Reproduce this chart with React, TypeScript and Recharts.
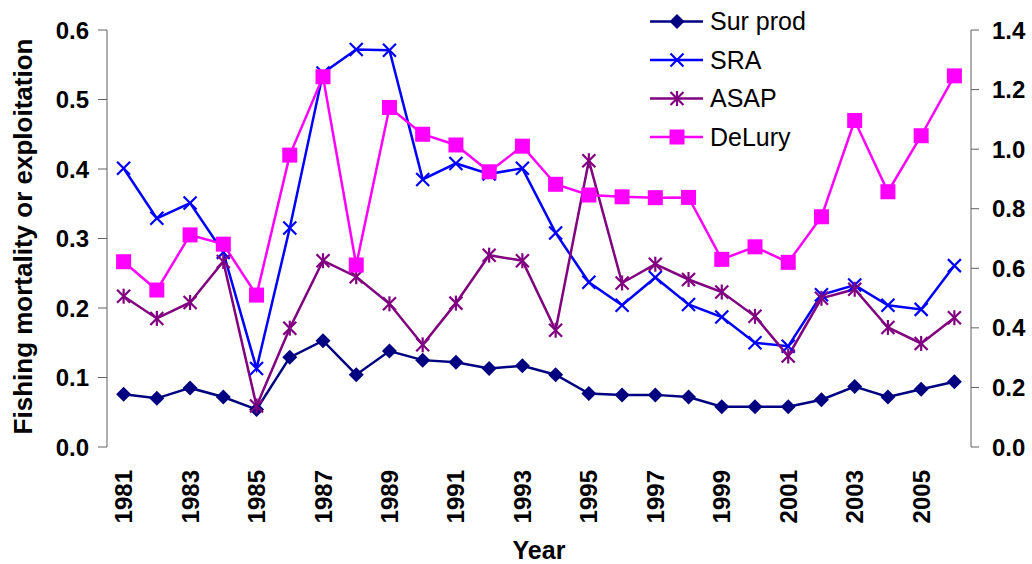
import React from 'react';
import { LineChart, Line, XAxis, YAxis, Legend } from 'recharts';

const years = [
  1981, 1982, 1983, 1984, 1985, 1986, 1987, 1988, 1989, 1990, 1991, 1992, 1993,
  1994, 1995, 1996, 1997, 1998, 1999, 2000, 2001, 2002, 2003, 2004, 2005, 2006,
];
const surProd = [
  0.076, 0.07, 0.085, 0.072, 0.054, 0.129, 0.153, 0.104, 0.138, 0.125, 0.122, 0.113, 0.117,
  0.104, 0.077, 0.075, 0.075, 0.072, 0.058, 0.058, 0.058, 0.068, 0.087, 0.072, 0.083, 0.094,
];
const sra = [
  0.401, 0.329, 0.351, 0.28, 0.113, 0.315, 0.538, 0.572, 0.571, 0.385, 0.408, 0.393, 0.401,
  0.308, 0.237, 0.204, 0.244, 0.205, 0.187, 0.15, 0.145, 0.219, 0.233, 0.204, 0.198, 0.261,
];
const asap = [
  0.217, 0.185, 0.208, 0.267, 0.059, 0.171, 0.268, 0.245, 0.206, 0.147, 0.207, 0.276, 0.268,
  0.168, 0.412, 0.236, 0.263, 0.241, 0.223, 0.188, 0.131, 0.214, 0.227, 0.172, 0.149, 0.186,
];
// DeLury is plotted against the right-hand axis
const delury = [
  0.622, 0.527, 0.712, 0.681, 0.51, 0.98, 1.243, 0.611, 1.14, 1.05, 1.014, 0.924, 1.01,
  0.882, 0.846, 0.84, 0.837, 0.838, 0.63, 0.672, 0.62, 0.773, 1.096, 0.857, 1.045, 1.246,
];
const labelYears = [1981, 1983, 1985, 1987, 1989, 1991, 1993, 1995, 1997, 1999, 2001, 2003, 2005];
const leftTicks = [0, 0.1, 0.2, 0.3, 0.4, 0.5, 0.6];
const rightTicks = [0, 0.2, 0.4, 0.6, 0.8, 1.0, 1.2, 1.4];

const data = years.map((year, i) => ({
  year,
  surProd: surProd[i],
  sra: sra[i],
  asap: asap[i],
  delury: delury[i],
}));

// tick marks sit between the years, like a category axis
const boundaryTicks = [...years.map((y) => y - 0.5), years[years.length - 1] + 0.5];

const FONT = '"Liberation Sans", Arial, sans-serif';
const AXIS_COLOR = '#606060';

type Shape = 'diamond' | 'x' | 'star' | 'square';

function Marker({ shape, cx, cy, color }: { shape: Shape; cx: number; cy: number; color: string }) {
  if (shape === 'diamond') {
    const r = 7.5;
    return <polygon points={`${cx},${cy - r} ${cx + r},${cy} ${cx},${cy + r} ${cx - r},${cy}`} fill={color} />;
  }
  if (shape === 'square') {
    const r = 7.5;
    return <rect x={cx - r} y={cy - r} width={2 * r} height={2 * r} fill={color} />;
  }
  const r = 6.5;
  return (
    <g stroke={color} strokeWidth={2.2}>
      <line x1={cx - r} y1={cy - r} x2={cx + r} y2={cy + r} />
      <line x1={cx - r} y1={cy + r} x2={cx + r} y2={cy - r} />
      {shape === 'star' && <line x1={cx} y1={cy - r - 1} x2={cx} y2={cy + r + 1} />}
    </g>
  );
}

const series = [
  { key: 'surProd', name: 'Sur prod', color: '#000080', shape: 'diamond' as Shape, axis: 'left' },
  { key: 'sra', name: 'SRA', color: '#0000FF', shape: 'x' as Shape, axis: 'left' },
  { key: 'asap', name: 'ASAP', color: '#800080', shape: 'star' as Shape, axis: 'left' },
  { key: 'delury', name: 'DeLury', color: '#FF00FF', shape: 'square' as Shape, axis: 'right' },
];

function LegendBox() {
  return (
    <svg width={230} height={160} style={{ display: 'block' }}>
      {series.map((s, i) => {
        const cy = 21.5 + i * 38.5;
        return (
          <g key={s.key}>
            <line x1={10} y1={cy} x2={63} y2={cy} stroke={s.color} strokeWidth={2.5} />
            <Marker shape={s.shape} cx={37} cy={cy} color={s.color} />
            <text x={70} y={cy} dy="0.35em" fontSize={25} fontFamily={FONT} fill="#000">
              {s.name}
            </text>
          </g>
        );
      })}
    </svg>
  );
}

function YearTick(props: any) {
  const { x, y, payload } = props;
  return (
    <text
      x={x}
      y={y}
      transform={`rotate(-90, ${x}, ${y})`}
      textAnchor="end"
      dominantBaseline="central"
      fontSize={24}
      fontWeight="bold"
      fontFamily={FONT}
      fill="#000"
    >
      {payload.value}
    </text>
  );
}

const tickStyle = { fontSize: 24, fontWeight: 'bold', fontFamily: FONT, fill: '#000' };

export default function App() {
  return (
    <div style={{ position: 'absolute', left: 0, top: 0 }}>
      <LineChart width={1032} height={564} data={data} margin={{ top: 30, right: 0, bottom: 0, left: 0 }}>
        <XAxis
          xAxisId="grid"
          type="number"
          dataKey="year"
          domain={[boundaryTicks[0], boundaryTicks[boundaryTicks.length - 1]]}
          ticks={boundaryTicks}
          tick={false}
          tickSize={8}
          height={0}
          stroke={AXIS_COLOR}
        />
        <XAxis
          xAxisId="labels"
          type="number"
          dataKey="year"
          domain={[boundaryTicks[0], boundaryTicks[boundaryTicks.length - 1]]}
          ticks={labelYears}
          tick={<YearTick />}
          tickLine={false}
          axisLine={false}
          tickSize={0}
          tickMargin={23}
          height={117}
          interval={0}
          label={{
            content: ({ viewBox }: any) => (
              <text
                x={viewBox.x + viewBox.width / 2}
                y={viewBox.y + viewBox.height - 5}
                textAnchor="middle"
                fontSize={25}
                fontWeight="bold"
                fontFamily={FONT}
                fill="#000"
              >
                Year
              </text>
            ),
          }}
        />
        <YAxis
          yAxisId="left"
          width={107}
          domain={[0, 0.6]}
          ticks={leftTicks}
          tickFormatter={(v: number) => v.toFixed(1)}
          tick={tickStyle}
          tickSize={9}
          tickMargin={9}
          stroke={AXIS_COLOR}
          label={{
            content: ({ viewBox }: any) => {
              const cx = viewBox.x + 23;
              const cy = viewBox.y + viewBox.height / 2 - 2;
              return (
                <text
                  x={cx}
                  y={cy}
                  transform={`rotate(-90, ${cx}, ${cy})`}
                  textAnchor="middle"
                  dominantBaseline="central"
                  fontSize={26}
                  fontWeight="bold"
                  fontFamily={FONT}
                  fill="#000"
                >
                  Fishing mortality or exploitation
                </text>
              );
            },
          }}
        />
        <YAxis
          yAxisId="right"
          orientation="right"
          width={61}
          domain={[0, 1.4]}
          ticks={rightTicks}
          tickFormatter={(v: number) => v.toFixed(1)}
          tick={tickStyle}
          tickSize={8}
          tickMargin={13}
          stroke={AXIS_COLOR}
        />
        <Legend
          layout="vertical"
          align="center"
          verticalAlign="middle"
          wrapperStyle={{ top: 0, left: 640, width: 230 }}
          content={() => <LegendBox />}
        />
        {series.map((s) => (
          <Line
            key={s.key}
            xAxisId="grid"
            yAxisId={s.axis}
            dataKey={s.key}
            name={s.name}
            type="linear"
            stroke={s.color}
            strokeWidth={2.5}
            isAnimationActive={false}
            activeDot={false}
            dot={(p: any) => (
              <Marker key={`${s.key}-${p.index}`} shape={s.shape} cx={p.cx} cy={p.cy} color={s.color} />
            )}
          />
        ))}
      </LineChart>
    </div>
  );
}
